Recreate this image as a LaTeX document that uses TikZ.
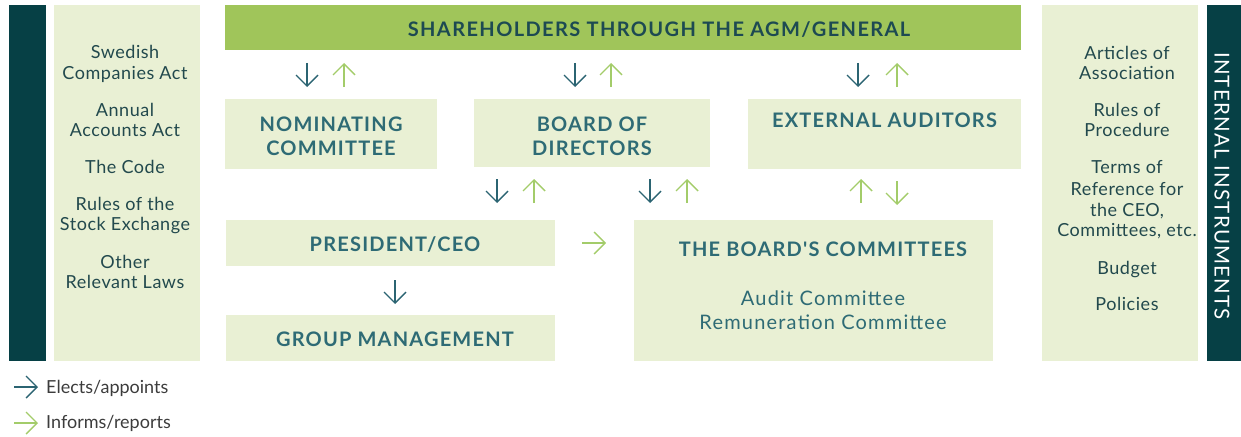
\documentclass[tikz,border=0pt]{standalone}
\usepackage{fontspec}
\setmainfont{Lato}
\newfontfamily\boxfont[LetterSpace=6]{Lato}
\newfontfamily\topfont[LetterSpace=7]{Lato}
\newfontfamily\panelfont[LetterSpace=3]{Lato}
\newfontfamily\barfont[LetterSpace=6]{Lato}
\usetikzlibrary{arrows.meta}
\definecolor{darkbar}{HTML}{064045}
\definecolor{lightbg}{HTML}{E9F0D4}
\definecolor{topgreen}{HTML}{A0C55A}
\definecolor{boxtext}{HTML}{2E6B75}
\definecolor{toptext}{HTML}{1D4A52}
\definecolor{paneltext}{HTML}{22494D}
\definecolor{elcol}{HTML}{2B6472}
\definecolor{incol}{HTML}{A3CC6A}
\definecolor{legtext}{HTML}{3C3C3C}
\tikzset{
  panel/.style={fill=lightbg, draw=none, inner sep=0pt, anchor=north west},
  darkpanel/.style={fill=darkbar, draw=none, inner sep=0pt, anchor=north west},
  boxtitle/.style={text=boxtext, font=\boxfont\bfseries\fontsize{20}{24}\selectfont, align=center, inner sep=0pt},
  subtext/.style={text=boxtext, font=\boxfont\fontsize{20}{24}\selectfont, align=center, inner sep=0pt},
  paneltxt/.style={text=paneltext, font=\panelfont\fontsize{18}{21}\selectfont, anchor=base, inner sep=0pt},
  legtxt/.style={text=legtext, font=\fontsize{18}{20}\selectfont, anchor=base west, inner sep=0pt},
  elarrow/.style={draw=elcol, line width=1.4pt, -{Straight Barb[length=11pt,width=22pt]}},
  inarrow/.style={draw=incol, line width=1.4pt, -{Straight Barb[length=11pt,width=22pt]}},
}
\begin{document}
\begin{tikzpicture}[x=1pt,y=-1pt]
\useasboundingbox (0,0) rectangle (1241,436);
% side panels
\node[darkpanel, minimum width=37pt, minimum height=356pt] (lbar) at (9,5) {};
\node[panel, minimum width=146pt, minimum height=356pt] (lpanel) at (54,5) {};
\node[panel, minimum width=156pt, minimum height=356pt] (rpanel) at (1042,5) {};
\node[darkpanel, minimum width=34pt, minimum height=356pt] (rbar) at (1207,5) {};
\node[text=white, font=\barfont\fontsize{20.5}{24}\selectfont, rotate=-90, inner sep=0pt] (rbartxt) at (1222,186) {INTERNAL INSTRUMENTS};
% left panel text
\foreach \n/\y/\t in {l1/58.3/Swedish, l2/79/Companies Act, l3/116.7/Annual,
  l4/136.7/Accounts Act, l5/173.3/The Code, l6/210/Rules of the,
  l7/230.7/Stock Exchange, l8/268.3/Other, l9/288.7/Relevant Laws}{
  \node[paneltxt] (\n) at (125,\y) {\t};
}
% right panel text
\foreach \n/\y/\t in {r1/59.3/Articles of, r2/79.3/Association, r3/116.7/Rules of,
  r4/136.7/Procedure, r5/173.3/Terms of, r6/195/Reference for,
  r7/216/{the CEO,}, r8/236.7/{Committees, etc.}, r9/274/Budget, r10/310/Policies}{
  \node[paneltxt] (\n) at (1127,\y) {\t};
}
% top bar
\node[fill=topgreen, inner sep=0pt, anchor=north west, minimum width=796pt, minimum height=45pt] (agm) at (225,5) {};
\node[text=toptext, font=\topfont\bfseries\fontsize{20}{24}\selectfont, inner sep=0pt] (agmtxt) at (659,29.7) {SHAREHOLDERS THROUGH THE AGM/GENERAL};
% boxes
\node[panel, minimum width=212pt, minimum height=70pt] (nom) at (225,99) {};
\node[boxtitle] (nomtxt) at (331,136) {NOMINATING\\COMMITTEE};
\node[panel, minimum width=236pt, minimum height=68pt] (bod) at (474,99) {};
\node[boxtitle] (bodtxt) at (592,136) {BOARD OF\\DIRECTORS};
\node[panel, minimum width=273pt, minimum height=70pt] (ext) at (748,99) {};
\node[boxtitle] (exttxt) at (884.5,120) {EXTERNAL AUDITORS};
\node[panel, minimum width=329pt, minimum height=46pt] (ceo) at (226,220) {};
\node[boxtitle] (ceotxt) at (395,245) {PRESIDENT/CEO};
\node[panel, minimum width=329pt, minimum height=46pt] (gm) at (226,315) {};
\node[boxtitle] (gmtxt) at (395,339) {GROUP MANAGEMENT};
\node[panel, minimum width=359pt, minimum height=141pt] (bc) at (634,220) {};
\node[boxtitle] (bctxt) at (823,249) {THE BOARD'S COMMITTEES};
\node[subtext] (bcsub) at (823,310) {Audit Committee\\Remuneration Committee};
% arrows
\foreach \n/\st/\x/\ya/\yb in {
  a/elarrow/307/63/87, b/inarrow/344/87/63,
  c/elarrow/575/63/87, d/inarrow/611/87/63,
  e/elarrow/858/63/87, f/inarrow/897/87/63,
  g/elarrow/497/179/203, h/inarrow/534/203/179,
  i/elarrow/650/179/203, j/inarrow/687/203/179,
  k/inarrow/861/203/179, l/inarrow/897/181/205,
  m/elarrow/395/280/304}{
  \coordinate (s\n) at (\x,\ya);
  \coordinate (e\n) at (\x,\yb);
  \draw[\st] (s\n) -- (e\n);
}
\coordinate (sn) at (582,243);
\coordinate (en) at (606,243);
\draw[inarrow] (sn) -- (en);
% legend
\coordinate (ls1) at (14,387);
\coordinate (le1) at (38,387);
\draw[elarrow] (ls1) -- (le1);
\node[legtxt] (leg1) at (46,393.3) {Elects/appoints};
\coordinate (ls2) at (14,423);
\coordinate (le2) at (38,423);
\draw[inarrow] (ls2) -- (le2);
\node[legtxt] (leg2) at (46,428.5) {Informs/reports};
\end{tikzpicture}
\end{document}
